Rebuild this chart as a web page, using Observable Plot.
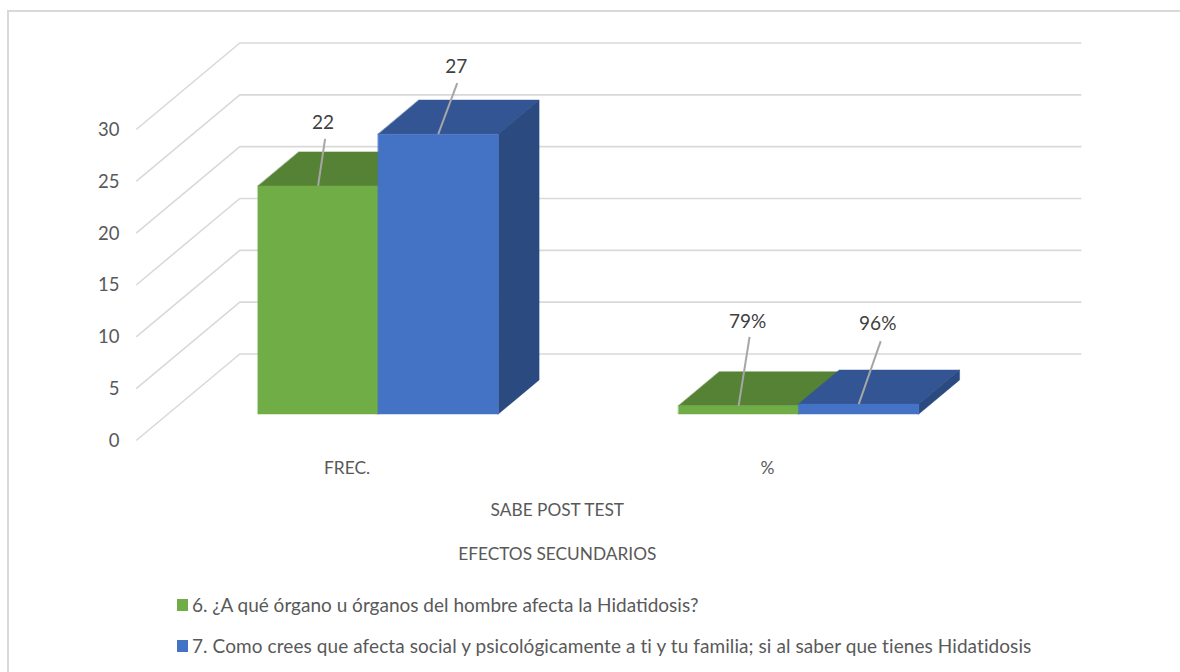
<!DOCTYPE html>
<html lang="es">
<head>
<meta charset="utf-8">
<script src="https://cdn.jsdelivr.net/npm/d3@7"></script>
<script src="https://cdn.jsdelivr.net/npm/@observablehq/plot@0.6"></script>
<style>
  html, body { margin: 0; padding: 0; background: #fff; overflow: hidden; }
  body { width: 1180px; height: 672px; position: relative; font-family: Lato, sans-serif; color: #595959; }
  #frame { position: absolute; left: 7px; top: 10px; right: -4px; bottom: -4px; border: 2px solid #d9d9d9; pointer-events: none; }
  #chart svg { display: block; }
  #legend { position: absolute; left: 177px; top: 584px; font-size: 19px; }
  #legend .row { height: 41px; line-height: 30px; white-space: nowrap; display: flex; align-items: center; }
  #legend .row:nth-child(2) { letter-spacing: 0.08px; }
  #legend .sw { width: 11px; height: 12px; margin-right: 4px; flex: none; }
</style>
</head>
<body>
<div id="chart"></div>
<div id="legend"></div>
<div id="frame"></div>
<script>
const categories = ["FREC.", "%"];
const seriesNames = [
  "6. ¿A qué órgano u órganos del hombre afecta la Hidatidosis?",
  "7. Como crees que afecta social y psicológicamente a ti y tu familia; si al saber que tienes Hidatidosis"
];
const seriesA = [22, 0.79];
const seriesB = [27, 0.96];
const labelsA = ["22", "79%"];
const labelsB = ["27", "96%"];
const yTicks = [0, 5, 10, 15, 20, 25, 30];
const axisTitles = ["SABE POST TEST", "EFECTOS SECUNDARIOS"];

const front = ["#70ad47", "#4472c4"];
const topFace = ["#568235", "#335593"];
const sideFace = ["#3f6b2a", "#2a4a80"];

// oblique projection of the 3-D box: pixels per unit on each scale
const PX_X = 420.5, PX_Y = 10.367;
const DX = 103 / PX_X, DY = 86 / PX_Y;
const D0 = 0.302, D1 = 0.698;
const BAR = 2 / 7, GAP = 3 / 14;
const P = (c, v, d) => ({x: c + d * DX, y: v + d * DY});

const marks = [];

// back wall and side wall gridlines
for (const t of yTicks) {
  marks.push(Plot.line([P(0, t, 0), P(0, t, 1), P(categories.length, t, 1)], {
    x: "x", y: "y", stroke: "#d9d9d9", strokeWidth: 1.6
  }));
}

const face = (pts, fill) => Plot.line(pts, {x: "x", y: "y", curve: "linear-closed", fill, stroke: fill, strokeWidth: 0.5});

const values = [seriesA, seriesB];
const labels = [labelsA, labelsB];

// leader-line tip and label offsets in pixels, per series and category
const leaderTip = [[[7, 47], [11, 69]], [[19, 51], [22, 63]]];
const labelOffset = [[[5, 63], [9, 84]], [[18, 67], [19, 80]]];
const texts = [];

categories.forEach((_, c) => {
  values.forEach((vals, s) => {
    const v = vals[c];
    const x0 = c + GAP + s * BAR, x1 = x0 + BAR;
    marks.push(face([P(x0, v, D0), P(x1, v, D0), P(x1, v, D1), P(x0, v, D1)], topFace[s]));
    marks.push(face([P(x1, 0, D0), P(x1, 0, D1), P(x1, v, D1), P(x1, v, D0)], sideFace[s]));
    marks.push(face([P(x0, 0, D0), P(x1, 0, D0), P(x1, v, D0), P(x0, v, D0)], front[s]));
  });
});

// data label leaders and texts, above every bar
categories.forEach((_, c) => {
  values.forEach((vals, s) => {
    const v = vals[c];
    const a = P(c + GAP + s * BAR + BAR / 2, v, D0);
    const tip = leaderTip[s][c], off = labelOffset[s][c];
    marks.push(Plot.link([a], {
      x1: "x", y1: "y",
      x2: d => d.x + tip[0] / PX_X,
      y2: d => d.y + tip[1] / PX_Y,
      stroke: "#a6a6a6", strokeWidth: 2
    }));
    texts.push({x: a.x + off[0] / PX_X, y: a.y + off[1] / PX_Y, text: labels[s][c]});
  });
});
marks.push(Plot.text(texts, {x: "x", y: "y", text: "text", fill: "#404040", fontSize: 19}));

// category labels
marks.push(Plot.text(categories, {
  x: (_, i) => i + 0.5, y: () => 0, text: d => d, dy: 28, fill: "#595959", fontSize: 17.4
}));
// axis titles
axisTitles.forEach((t, i) => {
  marks.push(Plot.text([t], {
    x: () => 1, y: () => 0, text: d => d, dy: i === 0 ? 70 : 114, fill: "#595959", fontSize: 17.3
  }));
});

marks.push(Plot.axisY({ticks: yTicks, tickSize: 0, tickPadding: 18, anchor: "left", label: null, fontSize: 18.5, dy: 1, color: "#595959", tickFormat: d => String(d)}));

const plot = Plot.plot({
  width: 1180,
  height: 590,
  marginLeft: 137,
  marginTop: 43,
  marginRight: 99,
  marginBottom: 150,
  style: {background: "transparent", fontFamily: "Lato, sans-serif", overflow: "visible"},
  x: {domain: [0, categories.length + DX], range: [136.3, 1080.3], axis: null},
  y: {domain: [0, 30 + DY], range: [439.5, 42.5], axis: null},
  marks
});
document.getElementById("chart").append(plot);

const legend = document.getElementById("legend");
seriesNames.forEach((name, i) => {
  const row = document.createElement("div");
  row.className = "row";
  const sw = document.createElement("span");
  sw.className = "sw";
  sw.style.background = front[i];
  const tx = document.createElement("span");
  tx.textContent = name;
  row.append(sw, tx);
  legend.append(row);
});
</script>
</body>
</html>
